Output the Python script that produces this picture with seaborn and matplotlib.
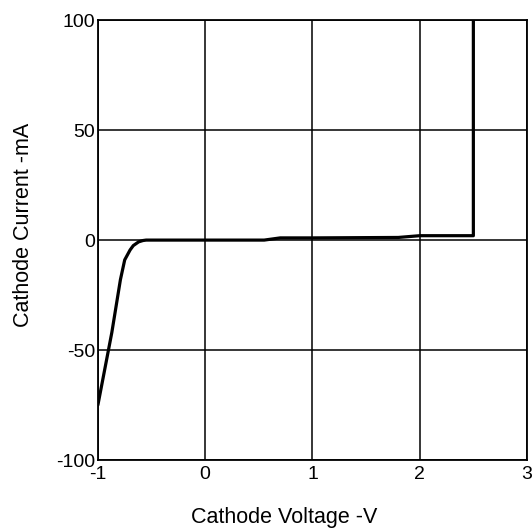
import matplotlib
matplotlib.use("Agg")
import matplotlib.pyplot as plt
import seaborn as sns
import pandas as pd

voltage = [-1.0, -0.87, -0.79, -0.75, -0.70, -0.67, -0.62, -0.58, -0.55, 0.0, 0.55, 0.70, 1.0, 1.80, 2.0, 2.50, 2.50]
current = [-75.0, -42.0, -18.0, -9.0, -4.5, -2.5, -0.8, -0.2, 0.0, 0.0, 0.0, 1.0, 1.0, 1.2, 2.0, 2.0, 100.0]

xticks = [-1, 0, 1, 2, 3]
yticks = [-100, -50, 0, 50, 100]

sns.set_theme(style="white")
plt.rcParams['font.family'] = ['Liberation Sans', 'DejaVu Sans']

fig = plt.figure(figsize=(5.32, 5.31), dpi=100)
ax = fig.add_axes([0.184, 0.1337, 0.8066, 0.8283])

df = pd.DataFrame({"V": voltage, "I": current})
sns.lineplot(data=df, x="V", y="I", sort=False, estimator=None, color="black", linewidth=2.3, ax=ax)

ax.set_xlim(-1, 3)
ax.set_ylim(-100, 100)
ax.set_xticks(xticks)
ax.set_yticks(yticks)
ax.set_xticklabels([str(t) for t in xticks], fontsize=14)
ax.set_yticklabels([str(t) for t in yticks], fontsize=14)
ax.grid(True, color="black", linewidth=1.1)
ax.set_axisbelow(True)
for s in ax.spines.values():
    s.set_color("black")
    s.set_linewidth(1.3)
ax.tick_params(axis="y", length=0, pad=2, colors="black")
ax.tick_params(axis="x", length=0, pad=4, colors="black")
ax.set_xlabel("Cathode Voltage -V", fontsize=15.5, color="black")
ax.set_ylabel("Cathode Current -mA", fontsize=15.5, color="black")
ax.xaxis.set_label_coords(0.434, -0.106)
ax.yaxis.set_label_coords(-0.149, 0.534)

fig.savefig("out.png", dpi=100)
